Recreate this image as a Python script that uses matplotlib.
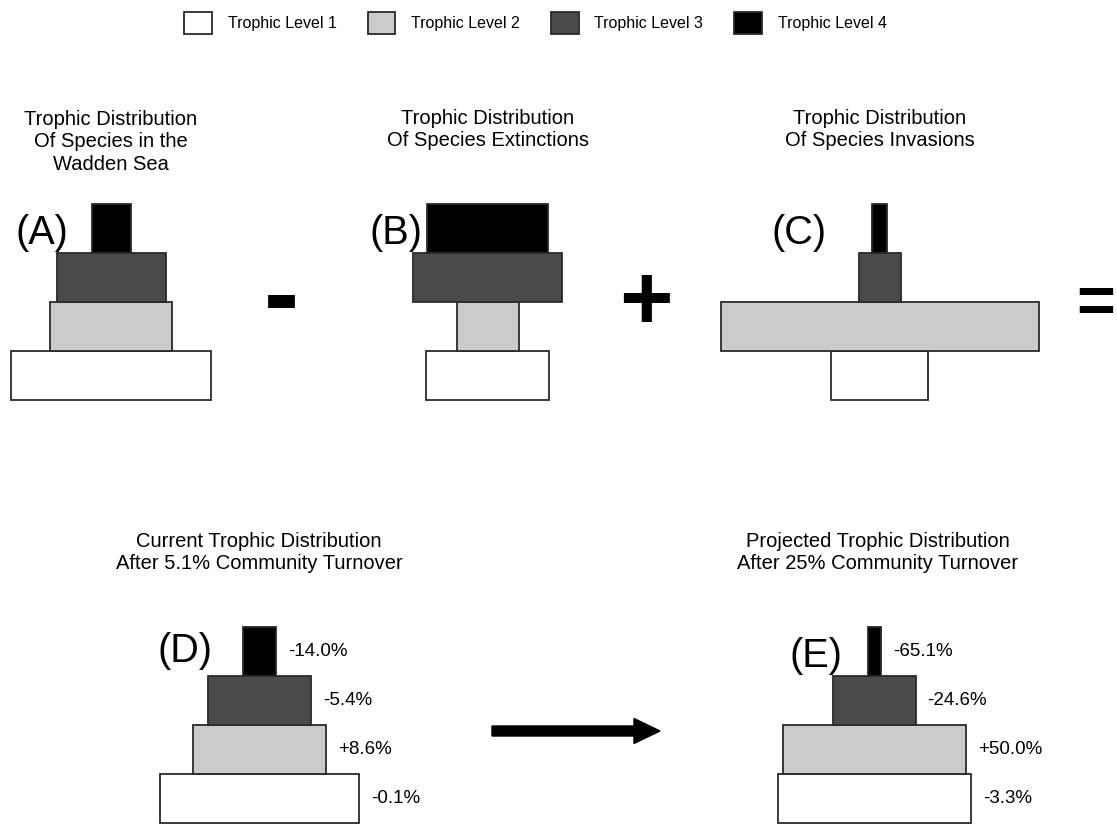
import numpy as np
import matplotlib
matplotlib.use("Agg")
import matplotlib.pyplot as plt
from matplotlib.patches import Patch

plt.rcParams['font.family'] = ['Liberation Sans', 'DejaVu Sans']

# trophic levels, bottom (1) to top (4)
levels = ["Trophic Level 1", "Trophic Level 2", "Trophic Level 3", "Trophic Level 4"]
level_colors = ["#ffffff", "#cbcbcb", "#4a4a4a", "#000000"]

# relative widths of each level
wadden = np.array([200, 122, 109, 39])
extinct = np.array([123, 62, 149, 121])
invaded = np.array([97, 318, 42, 15])

# percent change per level
change_current = np.array([-0.1, 8.6, -5.4, -14.0])
change_projected = np.array([-3.3, 50.0, -24.6, -65.1])

titles = [
    "Trophic Distribution\nOf Species in the\nWadden Sea",
    "Trophic Distribution\nOf Species Extinctions",
    "Trophic Distribution\nOf Species Invasions",
    "Current Trophic Distribution\nAfter 5.1% Community Turnover",
    "Projected Trophic Distribution\nAfter 25% Community Turnover",
]
panel_tags = ["(A)", "(B)", "(C)", "(D)", "(E)"]

W, H = 1117, 824
fig = plt.figure(figsize=(W / 100, H / 100), dpi=100)
ax = fig.add_axes([0, 0, 1, 1])
ax.set_xlim(0, W)
ax.set_ylim(H, 0)
ax.axis("off")

row_h = 49


def pyramid(cx, y1, widths):
    ys = y1 - row_h * np.arange(4)
    ax.barh(ys, widths, left=cx - widths / 2, height=row_h,
            color=level_colors, edgecolor="#2a2a2a", linewidth=1.3)
    return ys


# top row
pyramid(111, 375.5, wadden)
pyramid(487.5, 375.5, extinct)
pyramid(879.5, 375.5, invaded)

# bottom row
cur = wadden * (1 + change_current / 100)
proj = wadden * (1 + change_projected / 100)
for cx, widths, chg in [(259.5, cur, change_current), (874.5, proj, change_projected)]:
    ys = pyramid(cx, 798.5, widths)
    for y, w, c in zip(ys, widths, chg):
        ax.text(cx + w / 2 + 12, y, f"{c:+.1f}%", ha="left", va="center", fontsize=13.5)

# titles
for (tx, ty), t in zip([(111, 110), (488, 109), (880, 109), (259, 532), (878, 532)], titles):
    ax.text(tx, ty, t, ha="center", va="top", fontsize=14.5, linespacing=1.22)

# panel tags
for (tx, ty), t in zip([(15, 233), (369, 233), (772, 233), (157, 651), (790, 656)], panel_tags):
    ax.text(tx, ty, t, ha="left", va="center", fontsize=28.5)

# operators
ax.text(281.5, 301, "-", ha="center", va="center", fontsize=76, fontweight="bold")
ax.text(646, 305, "+", ha="center", va="center", fontsize=66, fontweight="bold")
ax.text(1076, 306, "=", ha="left", va="center", fontsize=48, fontweight="bold")

# arrow between D and E
ax.arrow(492, 731, 168, 0, width=10, head_width=25, head_length=26,
         length_includes_head=True, color="black")

handles = [Patch(facecolor=c, edgecolor="#2a2a2a", linewidth=1.3, label=l)
           for c, l in zip(level_colors, levels)]
fig.legend(handles=handles, loc="center", bbox_to_anchor=(535.5 / W, 1 - 23 / H),
           ncol=4, frameon=False, fontsize=11.5, handlelength=1.75, handleheight=1.75,
           handletextpad=1.0, columnspacing=1.9, borderpad=0)

plt.savefig("out.png", dpi=100)
